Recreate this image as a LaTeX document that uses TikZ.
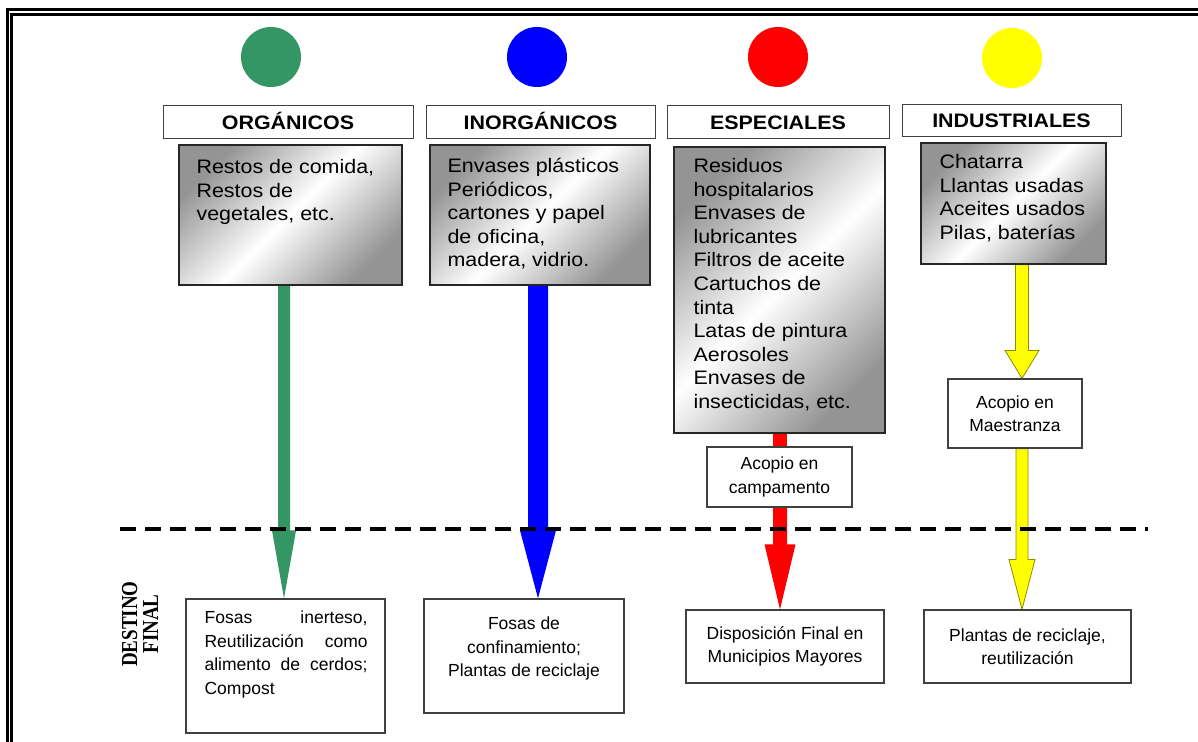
\documentclass[tikz,border=0pt]{standalone}
\usepackage{fontspec}
\setmainfont[FakeStretch=1.1]{Liberation Sans}
\newfontfamily\condsans{Liberation Sans}
\newfontfamily\destfont{Liberation Serif}
\usetikzlibrary{arrows.meta,calc}
\definecolor{wgreen}{RGB}{51,150,100}
\definecolor{wyellow}{RGB}{255,255,0}
\definecolor{wblue}{RGB}{0,0,255}
\definecolor{wred}{RGB}{255,0,0}
\pgfdeclarelayer{bg}
\pgfdeclarelayer{paper}
\pgfsetlayers{paper,bg,main}
\tikzset{
  dot/.style={circle, inner sep=0pt, minimum size=60pt},
  hdr/.style={draw=black!75, line width=1pt, fill=white, inner sep=0pt,
    minimum height=32pt, text height=14pt, text depth=0pt,
    font=\bfseries\fontsize{19.5}{22}\selectfont},
  cbox/.style={draw=black!85, line width=1.3pt, inner sep=0pt,
    top color=black!42, bottom color=black!42, middle color=white, shading angle=45},
  ctext/.style={anchor=north west, inner sep=0pt, align=left,
    font=\fontsize{19.5}{23.6}\selectfont},
  obox/.style={draw=black!75, line width=1.2pt, fill=white, inner sep=0pt},
  otext/.style={inner sep=0pt, align=center, font=\condsans\fontsize{17.5}{23.5}\selectfont},
  % block arrow: half shaft width, half head width, head length
  blockarrow/.style n args={3}{to path={
    let \p1=(\tikztostart), \p2=(\tikztotarget) in
    (\x1-#1,\y1) -- (\x1-#1,\y2+#3) -- (\x1-#2,\y2+#3) -- (\x1,\y2)
    -- (\x1+#2,\y2+#3) -- (\x1+#1,\y2+#3) -- (\x1+#1,\y1) -- cycle}},
  shaft/.style n args={1}{to path={
    let \p1=(\tikztostart), \p2=(\tikztotarget) in
    (\x1-#1,\y1) rectangle (\x1+#1,\y2)}},
  yel/.style={fill=wyellow, draw=black!45!wyellow, line width=0.8pt},
}
\begin{document}
\begin{tikzpicture}[x=1pt,y=-1pt]
\useasboundingbox (0,0) rectangle (1198,741);
\begin{pgfonlayer}{paper}
\fill[white] (0,0) rectangle (1198,741);
\end{pgfonlayer}
% frame
\draw[line width=3pt] (7.5,750) -- (7.5,9.5) -- (1210,9.5);
\draw[line width=3pt] (11.5,750) -- (11.5,14.5) -- (1210,14.5);

% colour dots
\node[dot, fill=wgreen] (k1) at (271,57) {};
\node[dot, fill=wblue] (k2) at (537,57) {};
\node[dot, fill=wred] (k3) at (778,57) {};
\node[dot, fill=wyellow] (k4) at (1012,58) {};

% headers
\node[hdr, minimum width=250pt] (h1) at (288,122) {ORGÁNICOS};
\node[hdr, minimum width=229pt] (h2) at (540.5,122) {INORGÁNICOS};
\node[hdr, minimum width=222pt] (h3) at (778,122) {ESPECIALES};
\node[hdr, minimum width=219pt, minimum height=31pt] (h4) at (1011.5,120.5) {INDUSTRIALES};

% content boxes
\node[cbox, minimum width=223pt, minimum height=140pt] (c1) at (290.5,215) {};
\node[cbox, minimum width=220pt, minimum height=140pt] (c2) at (540,215) {};
\node[cbox, minimum width=211pt, minimum height=286pt] (c3) at (779.5,290) {};
\node[cbox, minimum width=185pt, minimum height=121pt] (c4) at (1013.5,203.5) {};

\node[ctext] (t1) at ($(c1.north west)+(18,10)$) {\rule{0pt}{19pt}Restos de comida,\\Restos de\\vegetales, etc.};
\node[ctext] (t2) at ($(c2.north west)+(18,9)$) {\rule{0pt}{19pt}Envases plásticos\\Periódicos,\\cartones y papel\\de oficina,\\madera, vidrio.};
\node[ctext] (t3) at ($(c3.north west)+(20,7)$) {\rule{0pt}{19pt}Residuos\\hospitalarios\\Envases de\\lubricantes\\Filtros de aceite\\Cartuchos de\\tinta\\Latas de pintura\\Aerosoles\\Envases de\\insecticidas, etc.};
\node[ctext] (t4) at ($(c4.north west)+(19,7)$) {\rule{0pt}{19pt}Chatarra\\Llantas usadas\\Aceites usados\\Pilas, baterías};

% collection boxes
\node[obox, otext, minimum width=145pt, minimum height=60pt] (a3) at (779.5,477) {Acopio en\\campamento};
\node[obox, otext, minimum width=134pt, minimum height=69pt] (a4) at (1015,413.5) {Acopio en\\Maestranza};

% final destination boxes
\node[obox, minimum width=199pt, minimum height=134pt] (d1) at (285.5,666) {};
\node[obox, minimum width=200pt, minimum height=114pt] (d2) at (524,656) {};
\node[obox, otext, minimum width=198pt, minimum height=73pt] (d3) at (785,646.5) {Disposición Final en\\Municipios Mayores};
\node[obox, otext, minimum width=207pt, minimum height=73pt] (d4) at (1027.5,646.5) {Plantas de reciclaje,\\reutilización};

\node[otext, align=left, anchor=north west] (u1) at ($(d1.north west)+(19,9)$) {\rule{0pt}{16pt}\hbox to 163pt{Fosas\hfill inerteso,}\\\hbox to 163pt{Reutilización\hfill como}\\\hbox to 163pt{alimento de cerdos;}\\Compost};
\node[otext, anchor=north] (u2) at ($(d2.north)+(0,15)$) {\rule{0pt}{16pt}Fosas de\\confinamiento;\\Plantas de reciclaje};

% DESTINO FINAL
\node[rotate=90, yscale=1.2, align=center, inner sep=0pt,
  font=\destfont\bfseries\fontsize{19}{17.5}\selectfont] (df) at (140,624) {DESTINO\\FINAL};

% arrows
\coordinate (x1) at (284,0);
\coordinate (x2) at (538,0);
\coordinate (x3) at (780,0);
\coordinate (x4) at (1022,0);
\begin{pgfonlayer}{bg}
\fill[wgreen] (x1 |- c1.south) to[blockarrow={6pt}{12pt}{68pt}] (x1 |- d1.north);
\fill[wblue] (x2 |- c2.south) to[blockarrow={10pt}{18pt}{68pt}] (x2 |- d2.north);
\fill[wred] (x3 |- c3.south) to[shaft={7pt}] (x3 |- a3.north);
\fill[wred] (x3 |- a3.south) to[blockarrow={7pt}{15.5pt}{65pt}] (x3 |- d3.north);
\filldraw[yel] (x4 |- c4.south) to[blockarrow={6.5pt}{17pt}{28pt}] (x4 |- a4.north);
\filldraw[yel] (x4 |- a4.south) to[blockarrow={6pt}{13pt}{50pt}] (x4 |- d4.north);
\end{pgfonlayer}

% dashed boundary
\coordinate (l0) at (120,529);
\coordinate (l1) at (1148,529);
\draw[line width=3.5pt, dash pattern=on 16pt off 9pt] (l0) -- (l1);
\end{tikzpicture}
\end{document}
